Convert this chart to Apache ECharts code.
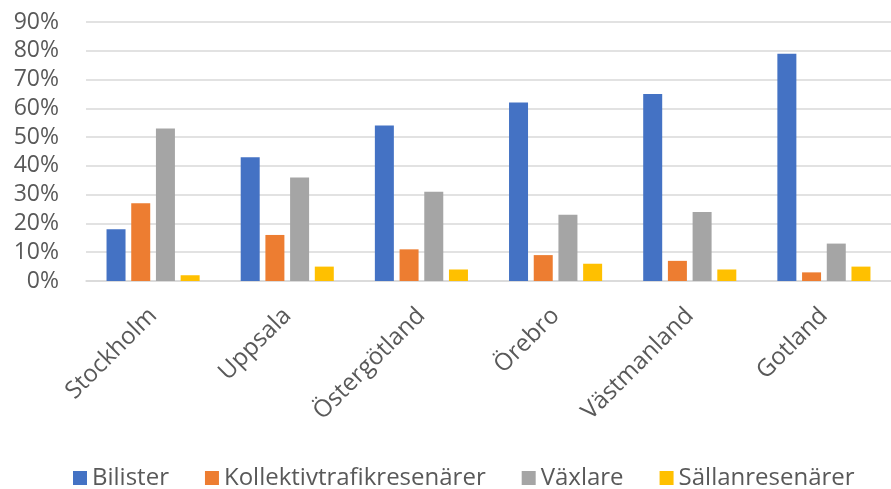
<!DOCTYPE html>
<html>
<head>
<meta charset="utf-8">
<script src="https://cdn.jsdelivr.net/npm/echarts@6/dist/echarts.min.js"></script>
<style>
  html, body { margin: 0; padding: 0; background: #fff; }
  #main { width: 891px; height: 489px; }
</style>
</head>
<body>
<div id="main"></div>
<script>
// län och andel resenärstyper (%)
var regions = ['Stockholm', 'Uppsala', 'Östergötland', 'Örebro', 'Västmanland', 'Gotland'];
var bilister = [18, 43, 54, 62, 65, 79];
var kollektiv = [27, 16, 11, 9, 7, 3];
var vaxlare = [53, 36, 31, 23, 24, 13];
var sallan = [2, 5, 4, 6, 4, 5];
var yTicks = [0, 10, 20, 30, 40, 50, 60, 70, 80, 90];

var font = "'Open Sans', 'Noto Sans', sans-serif";
var textColor = '#595959';

var chart = echarts.init(document.getElementById('main'), null, { renderer: 'canvas' });

function bar(name, data, color) {
  return {
    name: name,
    type: 'bar',
    data: data,
    barWidth: 19,
    barGap: '30%',
    itemStyle: { color: color }
  };
}

chart.setOption({
  backgroundColor: '#ffffff',
  animation: false,
  // plottet är beskuret till höger i originalet
  grid: { left: 86, width: 815, top: 22, bottom: 208 },
  legend: {
    top: 461,
    left: 68,
    itemWidth: 14,
    itemHeight: 14,
    itemGap: 36,
    itemTextGap: 8,
    icon: 'rect',
    textStyle: { fontFamily: font, fontSize: 24, color: textColor }
  },
  xAxis: {
    type: 'category',
    data: regions,
    axisLine: { lineStyle: { color: '#d9d9d9', width: 1.5 } },
    axisTick: { show: false },
    axisLabel: {
      rotate: 45,
      margin: 31,
      fontFamily: font,
      fontSize: 24,
      color: textColor
    }
  },
  yAxis: {
    type: 'value',
    min: yTicks[0],
    max: yTicks[yTicks.length - 1],
    interval: 10,
    axisLine: { show: false },
    axisTick: { show: false },
    splitLine: { lineStyle: { color: '#d9d9d9', width: 1.5 } },
    axisLabel: {
      margin: 27,
      fontFamily: font,
      fontSize: 23,
      color: textColor,
      formatter: '{value}%'
    }
  },
  series: [
    bar('Bilister', bilister, '#4472C4'),
    bar('Kollektivtrafikresenärer', kollektiv, '#ED7D31'),
    bar('Växlare', vaxlare, '#A5A5A5'),
    bar('Sällanresenärer', sallan, '#FFC000')
  ]
});
</script>
</body>
</html>
